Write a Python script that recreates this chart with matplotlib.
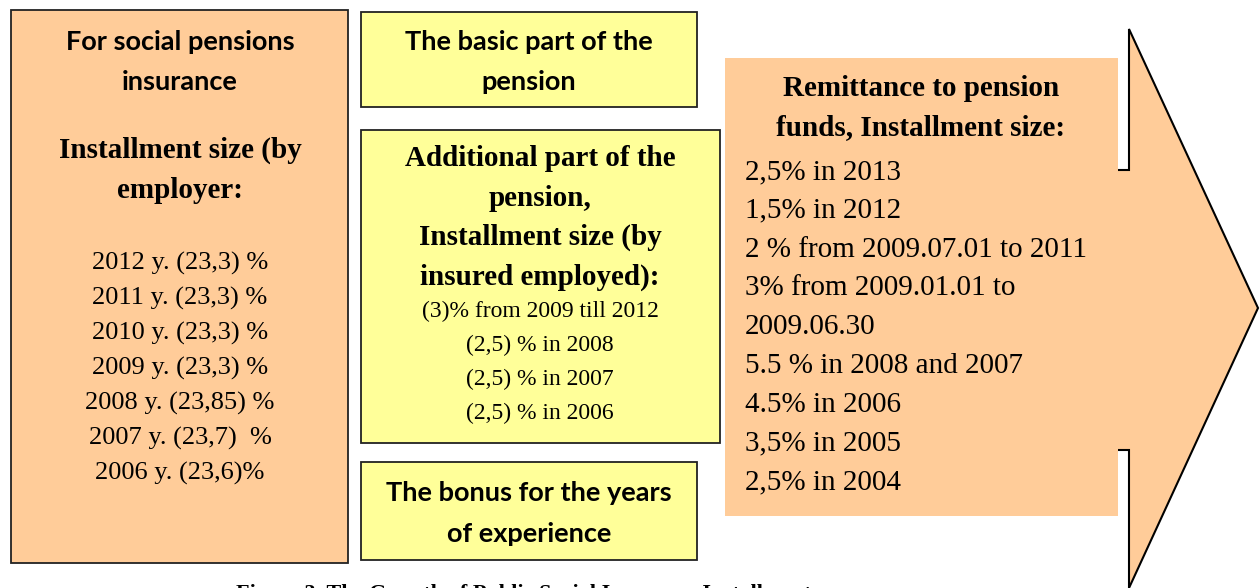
import matplotlib.pyplot as plt
from matplotlib.patches import Rectangle, Polygon

PEACH = "#FFCC99"
YELLOW = "#FFFF99"

# box texts
left_title = ["For social pensions", "insurance"]
left_sub = ["Installment size (by", "employer:"]
left_years = ["2012 y. (23,3) %", "2011 y. (23,3) %", "2010 y. (23,3) %",
              "2009 y. (23,3) %", "2008 y. (23,85) %", "2007 y. (23,7)  %",
              "2006 y. (23,6)%"]
basic_title = ["The basic part of the", "pension"]
add_title = ["Additional part of the", "pension,", "Installment size (by",
             "insured employed):"]
add_rates = ["(3)% from 2009 till 2012", "(2,5) % in 2008", "(2,5) % in 2007",
             "(2,5) % in 2006"]
bonus_title = ["The bonus for the years", "of experience"]
remit_title = ["Remittance to pension", "funds, Installment size:"]
remit_rates = ["2,5% in 2013", "1,5% in 2012", "2 % from 2009.07.01 to 2011",
               "3% from 2009.01.01 to", "2009.06.30", "5.5 % in 2008 and 2007",
               "4.5% in 2006", "3,5% in 2005", "2,5% in 2004"]
caption = "Figure 3. The Growth of Public Social Insurance Installments"

SANS = "Lato"
SERIF = "Liberation Serif"


def lines(ax, txt, x, y0, step, size, family, weight="normal", ha="center"):
    for i, t in enumerate(txt):
        ax.text(x, y0 + i * step, t, ha=ha, va="center", fontsize=size,
                family=family, fontweight=weight, color="black")


def box(ax, x, y, w, h, fc):
    ax.add_patch(Rectangle((x, y), w, h, facecolor=fc, edgecolor="#222222",
                           linewidth=1.3))


def main():
    fig = plt.figure(figsize=(12.6, 5.88), dpi=100)
    ax = fig.add_axes([0, 0, 1, 1])
    ax.set_xlim(0, 1260)
    ax.set_ylim(588, 0)
    ax.axis("off")

    # left box
    box(ax, 11, 10, 337, 553, PEACH)
    lines(ax, left_title, 180, 42, 40, 19.5, SANS, "bold")
    lines(ax, left_sub, 180, 150, 40, 21, SERIF, "bold")
    lines(ax, left_years, 180, 263, 35, 19, SERIF)

    # middle boxes
    box(ax, 361, 12, 336, 95, YELLOW)
    lines(ax, basic_title, 529, 42, 40, 19.5, SANS, "bold")

    box(ax, 361, 130, 359, 313, YELLOW)
    lines(ax, add_title, 540, 159, 39.3, 21, SERIF, "bold")
    lines(ax, add_rates, 540, 311, 34, 17, SERIF)

    box(ax, 361, 462, 336, 98, YELLOW)
    lines(ax, bonus_title, 529, 493, 41, 19.5, SANS, "bold")

    # arrow (shaft hidden under the text panel)
    arrow = Polygon([(1100, 170), (1129, 170), (1129, 29), (1258, 308),
                     (1129, 588), (1129, 450), (1100, 450)],
                    closed=True, facecolor=PEACH, edgecolor="black",
                    linewidth=1.5, joinstyle="miter")
    ax.add_patch(arrow)
    ax.add_patch(Rectangle((725, 58), 393, 458, facecolor=PEACH,
                           edgecolor="none"))
    lines(ax, remit_title, 921, 88, 40, 21, SERIF, "bold")
    lines(ax, remit_rates, 745, 172, 38.8, 21, SERIF, ha="left")

    ax.text(528, 584, caption, ha="center", va="top", fontsize=16,
            family=SERIF, fontweight="bold", clip_on=True)

    fig.savefig("out.png", dpi=100)


if __name__ == "__main__":
    main()
